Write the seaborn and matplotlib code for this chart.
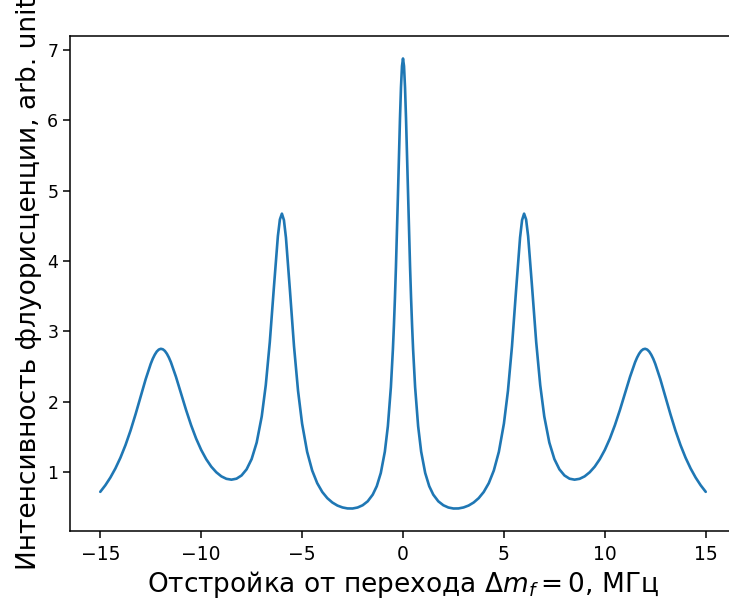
import matplotlib
matplotlib.use("Agg")
import matplotlib.pyplot as plt
import pandas as pd
import seaborn as sns

# Detuning from the Δm_f = 0 transition, MHz
detuning = [
    -15, -14.75, -14.5, -14.25, -14, -13.75, -13.5, -13.25, -13, -12.75,
    -12.5, -12.4, -12.3, -12.2, -12.1, -12, -11.9, -11.8, -11.7, -11.6,
    -11.5, -11.25, -11, -10.75, -10.5, -10.25, -10, -9.75, -9.5, -9.25,
    -9, -8.75, -8.5, -8.25, -8, -7.75, -7.5, -7.25, -7, -6.8,
    -6.6, -6.4, -6.2, -6.1, -6, -5.9, -5.8, -5.6, -5.4, -5.2,
    -5, -4.75, -4.5, -4.25, -4, -3.75, -3.5, -3.25, -3, -2.75,
    -2.5, -2.25, -2, -1.75, -1.5, -1.3, -1.1, -0.9, -0.75, -0.6,
    -0.5, -0.45, -0.4, -0.35, -0.3, -0.25, -0.2, -0.15, -0.1, -0.05,
    0,
    0.05, 0.1, 0.15, 0.2, 0.25, 0.3, 0.35, 0.4, 0.45, 0.5,
    0.6, 0.75, 0.9, 1.1, 1.3, 1.5, 1.75, 2, 2.25, 2.5,
    2.75, 3, 3.25, 3.5, 3.75, 4, 4.25, 4.5, 4.75, 5,
    5.2, 5.4, 5.6, 5.8, 5.9, 6, 6.1, 6.2, 6.4, 6.6,
    6.8, 7, 7.25, 7.5, 7.75, 8, 8.25, 8.5, 8.75, 9,
    9.25, 9.5, 9.75, 10, 10.25, 10.5, 10.75, 11, 11.25, 11.5,
    11.6, 11.7, 11.8, 11.9, 12, 12.1, 12.2, 12.3, 12.4, 12.5,
    12.75, 13, 13.25, 13.5, 13.75, 14, 14.25, 14.5, 14.75, 15,
]

# Fluorescence intensity, arb. units
intensity = [
    0.718, 0.811, 0.921, 1.051, 1.204, 1.383, 1.590, 1.823, 2.072, 2.320,
    2.538, 2.610, 2.668, 2.713, 2.741, 2.752, 2.745, 2.722, 2.682, 2.628,
    2.561, 2.354, 2.119, 1.883, 1.666, 1.475, 1.314, 1.182, 1.076, 0.996,
    0.938, 0.903, 0.891, 0.905, 0.951, 1.038, 1.184, 1.419, 1.790, 2.234,
    2.847, 3.614, 4.353, 4.591, 4.674, 4.582, 4.333, 3.574, 2.787, 2.153,
    1.688, 1.287, 1.021, 0.841, 0.716, 0.628, 0.566, 0.523, 0.496, 0.482,
    0.481, 0.495, 0.527, 0.583, 0.678, 0.798, 0.986, 1.289, 1.651, 2.208,
    2.747, 3.084, 3.472, 3.914, 4.408, 4.943, 5.495, 6.023, 6.470, 6.772,
    6.880,
    6.772, 6.470, 6.023, 5.495, 4.943, 4.408, 3.914, 3.472, 3.084, 2.747,
    2.208, 1.651, 1.289, 0.986, 0.798, 0.678, 0.583, 0.527, 0.495, 0.481,
    0.482, 0.496, 0.523, 0.566, 0.628, 0.716, 0.841, 1.021, 1.287, 1.688,
    2.153, 2.787, 3.574, 4.333, 4.582, 4.674, 4.591, 4.353, 3.614, 2.847,
    2.234, 1.790, 1.419, 1.184, 1.038, 0.951, 0.905, 0.891, 0.903, 0.938,
    0.996, 1.076, 1.182, 1.314, 1.475, 1.666, 1.883, 2.119, 2.354, 2.561,
    2.628, 2.682, 2.722, 2.745, 2.752, 2.741, 2.713, 2.668, 2.610, 2.538,
    2.320, 2.072, 1.823, 1.590, 1.383, 1.204, 1.051, 0.921, 0.811, 0.718,
]

x_ticks = [-15, -10, -5, 0, 5, 10, 15]
y_ticks = [1, 2, 3, 4, 5, 6, 7]

x_label = r"Отстройка от перехода $\Delta m_f = 0$, МГц"
y_label = "Интенсивность флуорисценции, arb. unit"

sns.set_style("ticks")
plt.rcParams.update({
    "font.family": ["DejaVu Sans"],
    "axes.edgecolor": "black",
    "axes.labelcolor": "black",
    "text.color": "black",
    "xtick.color": "black",
    "ytick.color": "black",
    "axes.linewidth": 1.1,
    "xtick.major.size": 4.8,
    "ytick.major.size": 4.8,
    "xtick.major.width": 1.1,
    "ytick.major.width": 1.1,
    "xtick.major.pad": 5.0,
    "ytick.major.pad": 3.6,
    "lines.solid_joinstyle": "round",
})

df = pd.DataFrame({"detuning": detuning, "intensity": intensity})

fig = plt.figure(figsize=(7.29, 6.03), dpi=100)
ax = fig.add_axes([70 / 729, 72 / 603, 666 / 729, 495 / 603])

sns.lineplot(
    data=df, x="detuning", y="intensity", ax=ax,
    color="#1f77b4", linewidth=1.9, estimator=None, sort=False,
)

ax.margins(x=0.05, y=0.05)
ax.set_xticks(x_ticks)
ax.set_yticks(y_ticks)
ax.tick_params(axis="x", labelsize=13.5)
ax.tick_params(axis="y", labelsize=12.5)
ax.set_xlabel(x_label, fontsize=19)
ax.set_ylabel(y_label, fontsize=19)

fig.savefig("out.png", dpi=100)
